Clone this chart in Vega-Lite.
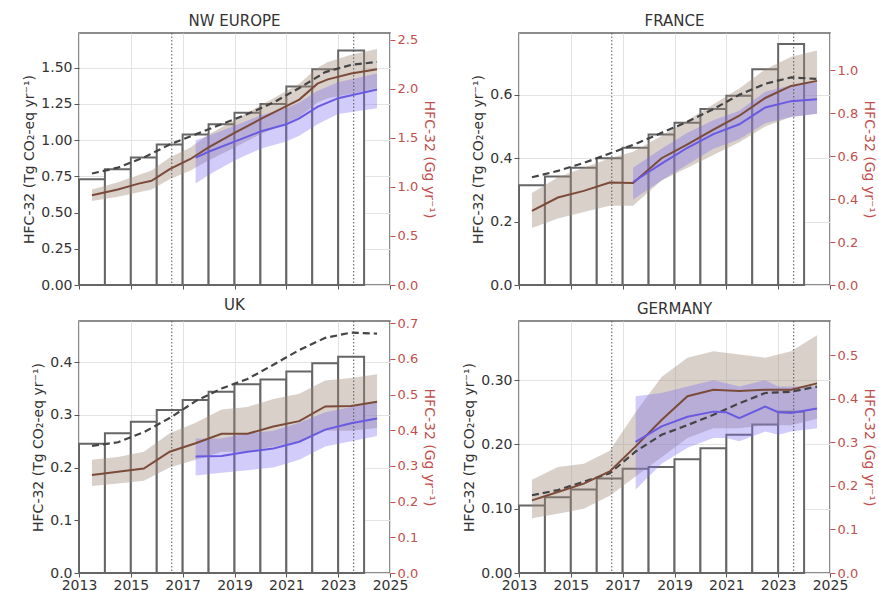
{
  "$schema": "https://vega.github.io/schema/vega-lite/v6.json",
  "padding": {"left": 22, "top": 12, "right": 0, "bottom": 0},
  "background": "white",
  "config": {
    "font": "DejaVu Sans",
    "view": {"stroke": "#666", "strokeWidth": 1.5},
    "axis": {"labelFont": "DejaVu Sans", "labelFontSize": 14, "labelColor": "#333", "titleFont": "DejaVu Sans", "titleFontSize": 14, "titleFontWeight": "normal", "titleColor": "#333", "tickColor": "#555", "domain": false, "gridColor": "#e3e3e3", "tickSize": 5},
    "axisX": {"tickSize": 4, "labelPadding": 1},
    "title": {"font": "DejaVu Sans", "fontSize": 15, "fontWeight": "normal", "color": "#333", "offset": 4}
  },
  "datasets": {
    "bars": [
      {"region": "NW EUROPE", "t": 2013, "t2": 2014, "v": 0.73},
      {"region": "NW EUROPE", "t": 2014, "t2": 2015, "v": 0.80},
      {"region": "NW EUROPE", "t": 2015, "t2": 2016, "v": 0.88},
      {"region": "NW EUROPE", "t": 2016, "t2": 2017, "v": 0.97},
      {"region": "NW EUROPE", "t": 2017, "t2": 2018, "v": 1.04},
      {"region": "NW EUROPE", "t": 2018, "t2": 2019, "v": 1.11},
      {"region": "NW EUROPE", "t": 2019, "t2": 2020, "v": 1.19},
      {"region": "NW EUROPE", "t": 2020, "t2": 2021, "v": 1.25},
      {"region": "NW EUROPE", "t": 2021, "t2": 2022, "v": 1.37},
      {"region": "NW EUROPE", "t": 2022, "t2": 2023, "v": 1.49},
      {"region": "NW EUROPE", "t": 2023, "t2": 2024, "v": 1.62},
      {"region": "FRANCE", "t": 2013, "t2": 2014, "v": 0.315},
      {"region": "FRANCE", "t": 2014, "t2": 2015, "v": 0.342},
      {"region": "FRANCE", "t": 2015, "t2": 2016, "v": 0.37},
      {"region": "FRANCE", "t": 2016, "t2": 2017, "v": 0.40},
      {"region": "FRANCE", "t": 2017, "t2": 2018, "v": 0.433},
      {"region": "FRANCE", "t": 2018, "t2": 2019, "v": 0.475},
      {"region": "FRANCE", "t": 2019, "t2": 2020, "v": 0.512},
      {"region": "FRANCE", "t": 2020, "t2": 2021, "v": 0.555},
      {"region": "FRANCE", "t": 2021, "t2": 2022, "v": 0.597},
      {"region": "FRANCE", "t": 2022, "t2": 2023, "v": 0.681},
      {"region": "FRANCE", "t": 2023, "t2": 2024, "v": 0.76},
      {"region": "UK", "t": 2013, "t2": 2014, "v": 0.245},
      {"region": "UK", "t": 2014, "t2": 2015, "v": 0.265},
      {"region": "UK", "t": 2015, "t2": 2016, "v": 0.287},
      {"region": "UK", "t": 2016, "t2": 2017, "v": 0.309},
      {"region": "UK", "t": 2017, "t2": 2018, "v": 0.328},
      {"region": "UK", "t": 2018, "t2": 2019, "v": 0.344},
      {"region": "UK", "t": 2019, "t2": 2020, "v": 0.358},
      {"region": "UK", "t": 2020, "t2": 2021, "v": 0.367},
      {"region": "UK", "t": 2021, "t2": 2022, "v": 0.382},
      {"region": "UK", "t": 2022, "t2": 2023, "v": 0.398},
      {"region": "UK", "t": 2023, "t2": 2024, "v": 0.41},
      {"region": "GERMANY", "t": 2013, "t2": 2014, "v": 0.105},
      {"region": "GERMANY", "t": 2014, "t2": 2015, "v": 0.118},
      {"region": "GERMANY", "t": 2015, "t2": 2016, "v": 0.13},
      {"region": "GERMANY", "t": 2016, "t2": 2017, "v": 0.147},
      {"region": "GERMANY", "t": 2017, "t2": 2018, "v": 0.162},
      {"region": "GERMANY", "t": 2018, "t2": 2019, "v": 0.165},
      {"region": "GERMANY", "t": 2019, "t2": 2020, "v": 0.177},
      {"region": "GERMANY", "t": 2020, "t2": 2021, "v": 0.194},
      {"region": "GERMANY", "t": 2021, "t2": 2022, "v": 0.215},
      {"region": "GERMANY", "t": 2022, "t2": 2023, "v": 0.231},
      {"region": "GERMANY", "t": 2023, "t2": 2024, "v": 0.251}
    ],
    "series": [
      {"region": "NW EUROPE", "kind": "dashed", "t": 2013.5, "v": 0.77},
      {"region": "NW EUROPE", "kind": "dashed", "t": 2014.5, "v": 0.81},
      {"region": "NW EUROPE", "kind": "dashed", "t": 2015.5, "v": 0.88},
      {"region": "NW EUROPE", "kind": "dashed", "t": 2016.5, "v": 0.97},
      {"region": "NW EUROPE", "kind": "dashed", "t": 2017.5, "v": 1.04},
      {"region": "NW EUROPE", "kind": "dashed", "t": 2018.5, "v": 1.11},
      {"region": "NW EUROPE", "kind": "dashed", "t": 2019.5, "v": 1.18},
      {"region": "NW EUROPE", "kind": "dashed", "t": 2020.5, "v": 1.26},
      {"region": "NW EUROPE", "kind": "dashed", "t": 2021.5, "v": 1.36},
      {"region": "NW EUROPE", "kind": "dashed", "t": 2022.5, "v": 1.47},
      {"region": "NW EUROPE", "kind": "dashed", "t": 2023.5, "v": 1.52},
      {"region": "NW EUROPE", "kind": "dashed", "t": 2024.5, "v": 1.54},
      {"region": "NW EUROPE", "kind": "brown", "t": 2013.5, "v": 0.62, "lo": 0.58, "hi": 0.66},
      {"region": "NW EUROPE", "kind": "brown", "t": 2014.5, "v": 0.66, "lo": 0.61, "hi": 0.71},
      {"region": "NW EUROPE", "kind": "brown", "t": 2015.3, "v": 0.70, "lo": 0.64, "hi": 0.76},
      {"region": "NW EUROPE", "kind": "brown", "t": 2015.8, "v": 0.72, "lo": 0.66, "hi": 0.79},
      {"region": "NW EUROPE", "kind": "brown", "t": 2016.5, "v": 0.80, "lo": 0.73, "hi": 0.88},
      {"region": "NW EUROPE", "kind": "brown", "t": 2017.3, "v": 0.87, "lo": 0.79, "hi": 0.95},
      {"region": "NW EUROPE", "kind": "brown", "t": 2018.0, "v": 0.95, "lo": 0.86, "hi": 1.04},
      {"region": "NW EUROPE", "kind": "brown", "t": 2019.0, "v": 1.05, "lo": 0.95, "hi": 1.14},
      {"region": "NW EUROPE", "kind": "brown", "t": 2020.0, "v": 1.145, "lo": 1.04, "hi": 1.24},
      {"region": "NW EUROPE", "kind": "brown", "t": 2021.0, "v": 1.235, "lo": 1.12, "hi": 1.34},
      {"region": "NW EUROPE", "kind": "brown", "t": 2021.5, "v": 1.28, "lo": 1.16, "hi": 1.39},
      {"region": "NW EUROPE", "kind": "brown", "t": 2022.2, "v": 1.39, "lo": 1.26, "hi": 1.50},
      {"region": "NW EUROPE", "kind": "brown", "t": 2022.6, "v": 1.42, "lo": 1.29, "hi": 1.54},
      {"region": "NW EUROPE", "kind": "brown", "t": 2023.5, "v": 1.46, "lo": 1.32, "hi": 1.59},
      {"region": "NW EUROPE", "kind": "brown", "t": 2024.5, "v": 1.49, "lo": 1.36, "hi": 1.63},
      {"region": "NW EUROPE", "kind": "blue", "t": 2017.5, "v": 0.88, "lo": 0.70, "hi": 1.00},
      {"region": "NW EUROPE", "kind": "blue", "t": 2018.0, "v": 0.92, "lo": 0.76, "hi": 1.03},
      {"region": "NW EUROPE", "kind": "blue", "t": 2019.0, "v": 0.99, "lo": 0.86, "hi": 1.10},
      {"region": "NW EUROPE", "kind": "blue", "t": 2020.0, "v": 1.06, "lo": 0.94, "hi": 1.17},
      {"region": "NW EUROPE", "kind": "blue", "t": 2021.0, "v": 1.11, "lo": 0.99, "hi": 1.22},
      {"region": "NW EUROPE", "kind": "blue", "t": 2021.5, "v": 1.15, "lo": 1.03, "hi": 1.26},
      {"region": "NW EUROPE", "kind": "blue", "t": 2022.2, "v": 1.23, "lo": 1.11, "hi": 1.34},
      {"region": "NW EUROPE", "kind": "blue", "t": 2023.0, "v": 1.29, "lo": 1.18, "hi": 1.40},
      {"region": "NW EUROPE", "kind": "blue", "t": 2024.5, "v": 1.35, "lo": 1.22, "hi": 1.46},
      {"region": "FRANCE", "kind": "dashed", "t": 2013.5, "v": 0.34},
      {"region": "FRANCE", "kind": "dashed", "t": 2014.5, "v": 0.36},
      {"region": "FRANCE", "kind": "dashed", "t": 2015.5, "v": 0.385},
      {"region": "FRANCE", "kind": "dashed", "t": 2016.5, "v": 0.415},
      {"region": "FRANCE", "kind": "dashed", "t": 2017.5, "v": 0.445},
      {"region": "FRANCE", "kind": "dashed", "t": 2018.5, "v": 0.48},
      {"region": "FRANCE", "kind": "dashed", "t": 2019.5, "v": 0.515},
      {"region": "FRANCE", "kind": "dashed", "t": 2020.5, "v": 0.555},
      {"region": "FRANCE", "kind": "dashed", "t": 2021.5, "v": 0.60},
      {"region": "FRANCE", "kind": "dashed", "t": 2022.5, "v": 0.635},
      {"region": "FRANCE", "kind": "dashed", "t": 2023.5, "v": 0.655},
      {"region": "FRANCE", "kind": "dashed", "t": 2024.5, "v": 0.65},
      {"region": "FRANCE", "kind": "brown", "t": 2013.5, "v": 0.234, "lo": 0.18, "hi": 0.29},
      {"region": "FRANCE", "kind": "brown", "t": 2014.5, "v": 0.276, "lo": 0.21, "hi": 0.34},
      {"region": "FRANCE", "kind": "brown", "t": 2015.5, "v": 0.297, "lo": 0.23, "hi": 0.37},
      {"region": "FRANCE", "kind": "brown", "t": 2016.5, "v": 0.323, "lo": 0.25, "hi": 0.40},
      {"region": "FRANCE", "kind": "brown", "t": 2017.4, "v": 0.322, "lo": 0.25, "hi": 0.42},
      {"region": "FRANCE", "kind": "brown", "t": 2018.5, "v": 0.40, "lo": 0.33, "hi": 0.47},
      {"region": "FRANCE", "kind": "brown", "t": 2019.5, "v": 0.444, "lo": 0.37, "hi": 0.52},
      {"region": "FRANCE", "kind": "brown", "t": 2020.5, "v": 0.49, "lo": 0.41, "hi": 0.57},
      {"region": "FRANCE", "kind": "brown", "t": 2021.5, "v": 0.534, "lo": 0.45, "hi": 0.62},
      {"region": "FRANCE", "kind": "brown", "t": 2022.5, "v": 0.59, "lo": 0.50, "hi": 0.68},
      {"region": "FRANCE", "kind": "brown", "t": 2023.5, "v": 0.628, "lo": 0.53, "hi": 0.72},
      {"region": "FRANCE", "kind": "brown", "t": 2024.5, "v": 0.644, "lo": 0.54, "hi": 0.74},
      {"region": "FRANCE", "kind": "blue", "t": 2017.4, "v": 0.325, "lo": 0.27, "hi": 0.37},
      {"region": "FRANCE", "kind": "blue", "t": 2018.5, "v": 0.383, "lo": 0.33, "hi": 0.43},
      {"region": "FRANCE", "kind": "blue", "t": 2019.5, "v": 0.433, "lo": 0.38, "hi": 0.48},
      {"region": "FRANCE", "kind": "blue", "t": 2020.5, "v": 0.476, "lo": 0.43, "hi": 0.52},
      {"region": "FRANCE", "kind": "blue", "t": 2021.5, "v": 0.507, "lo": 0.46, "hi": 0.55},
      {"region": "FRANCE", "kind": "blue", "t": 2022.5, "v": 0.56, "lo": 0.51, "hi": 0.61},
      {"region": "FRANCE", "kind": "blue", "t": 2023.5, "v": 0.58, "lo": 0.53, "hi": 0.63},
      {"region": "FRANCE", "kind": "blue", "t": 2024.5, "v": 0.586, "lo": 0.54, "hi": 0.64},
      {"region": "UK", "kind": "dashed", "t": 2013.5, "v": 0.241},
      {"region": "UK", "kind": "dashed", "t": 2014.5, "v": 0.248},
      {"region": "UK", "kind": "dashed", "t": 2015.5, "v": 0.267},
      {"region": "UK", "kind": "dashed", "t": 2016.5, "v": 0.294},
      {"region": "UK", "kind": "dashed", "t": 2017.5, "v": 0.326},
      {"region": "UK", "kind": "dashed", "t": 2018.5, "v": 0.35},
      {"region": "UK", "kind": "dashed", "t": 2019.5, "v": 0.368},
      {"region": "UK", "kind": "dashed", "t": 2020.5, "v": 0.395},
      {"region": "UK", "kind": "dashed", "t": 2021.5, "v": 0.423},
      {"region": "UK", "kind": "dashed", "t": 2022.5, "v": 0.446},
      {"region": "UK", "kind": "dashed", "t": 2023.5, "v": 0.456},
      {"region": "UK", "kind": "dashed", "t": 2024.5, "v": 0.454},
      {"region": "UK", "kind": "brown", "t": 2013.5, "v": 0.186, "lo": 0.165, "hi": 0.215},
      {"region": "UK", "kind": "brown", "t": 2014.5, "v": 0.192, "lo": 0.17, "hi": 0.22},
      {"region": "UK", "kind": "brown", "t": 2015.5, "v": 0.198, "lo": 0.175, "hi": 0.23},
      {"region": "UK", "kind": "brown", "t": 2016.5, "v": 0.23, "lo": 0.20, "hi": 0.265},
      {"region": "UK", "kind": "brown", "t": 2017.5, "v": 0.246, "lo": 0.215, "hi": 0.285},
      {"region": "UK", "kind": "brown", "t": 2018.5, "v": 0.264, "lo": 0.23, "hi": 0.31},
      {"region": "UK", "kind": "brown", "t": 2019.5, "v": 0.264, "lo": 0.23, "hi": 0.315},
      {"region": "UK", "kind": "brown", "t": 2020.5, "v": 0.278, "lo": 0.24, "hi": 0.33},
      {"region": "UK", "kind": "brown", "t": 2021.5, "v": 0.288, "lo": 0.25, "hi": 0.34},
      {"region": "UK", "kind": "brown", "t": 2022.5, "v": 0.316, "lo": 0.27, "hi": 0.365},
      {"region": "UK", "kind": "brown", "t": 2023.5, "v": 0.317, "lo": 0.27, "hi": 0.37},
      {"region": "UK", "kind": "brown", "t": 2024.5, "v": 0.325, "lo": 0.275, "hi": 0.377},
      {"region": "UK", "kind": "blue", "t": 2017.5, "v": 0.221, "lo": 0.185, "hi": 0.255},
      {"region": "UK", "kind": "blue", "t": 2018.5, "v": 0.222, "lo": 0.19, "hi": 0.255},
      {"region": "UK", "kind": "blue", "t": 2019.5, "v": 0.23, "lo": 0.195, "hi": 0.265},
      {"region": "UK", "kind": "blue", "t": 2020.5, "v": 0.236, "lo": 0.20, "hi": 0.27},
      {"region": "UK", "kind": "blue", "t": 2021.5, "v": 0.249, "lo": 0.215, "hi": 0.285},
      {"region": "UK", "kind": "blue", "t": 2022.5, "v": 0.272, "lo": 0.24, "hi": 0.305},
      {"region": "UK", "kind": "blue", "t": 2023.5, "v": 0.284, "lo": 0.25, "hi": 0.315},
      {"region": "UK", "kind": "blue", "t": 2024.5, "v": 0.293, "lo": 0.26, "hi": 0.325},
      {"region": "GERMANY", "kind": "dashed", "t": 2013.5, "v": 0.121},
      {"region": "GERMANY", "kind": "dashed", "t": 2014.5, "v": 0.129},
      {"region": "GERMANY", "kind": "dashed", "t": 2015.5, "v": 0.142},
      {"region": "GERMANY", "kind": "dashed", "t": 2016.5, "v": 0.155},
      {"region": "GERMANY", "kind": "dashed", "t": 2017.5, "v": 0.189},
      {"region": "GERMANY", "kind": "dashed", "t": 2018.5, "v": 0.215},
      {"region": "GERMANY", "kind": "dashed", "t": 2019.5, "v": 0.23},
      {"region": "GERMANY", "kind": "dashed", "t": 2020.5, "v": 0.246},
      {"region": "GERMANY", "kind": "dashed", "t": 2021.5, "v": 0.264},
      {"region": "GERMANY", "kind": "dashed", "t": 2022.5, "v": 0.28},
      {"region": "GERMANY", "kind": "dashed", "t": 2023.5, "v": 0.282},
      {"region": "GERMANY", "kind": "dashed", "t": 2024.5, "v": 0.29},
      {"region": "GERMANY", "kind": "brown", "t": 2013.5, "v": 0.113, "lo": 0.085, "hi": 0.145},
      {"region": "GERMANY", "kind": "brown", "t": 2014.5, "v": 0.126, "lo": 0.092, "hi": 0.165},
      {"region": "GERMANY", "kind": "brown", "t": 2015.5, "v": 0.139, "lo": 0.10, "hi": 0.17},
      {"region": "GERMANY", "kind": "brown", "t": 2016.5, "v": 0.158, "lo": 0.12, "hi": 0.19},
      {"region": "GERMANY", "kind": "brown", "t": 2017.5, "v": 0.197, "lo": 0.15, "hi": 0.25},
      {"region": "GERMANY", "kind": "brown", "t": 2018.5, "v": 0.238, "lo": 0.18, "hi": 0.305},
      {"region": "GERMANY", "kind": "brown", "t": 2019.5, "v": 0.275, "lo": 0.21, "hi": 0.335},
      {"region": "GERMANY", "kind": "brown", "t": 2020.5, "v": 0.285, "lo": 0.225, "hi": 0.345},
      {"region": "GERMANY", "kind": "brown", "t": 2021.5, "v": 0.283, "lo": 0.225, "hi": 0.34},
      {"region": "GERMANY", "kind": "brown", "t": 2022.5, "v": 0.285, "lo": 0.23, "hi": 0.335},
      {"region": "GERMANY", "kind": "brown", "t": 2023.5, "v": 0.285, "lo": 0.23, "hi": 0.345},
      {"region": "GERMANY", "kind": "brown", "t": 2024.5, "v": 0.295, "lo": 0.24, "hi": 0.37},
      {"region": "GERMANY", "kind": "blue", "t": 2017.5, "v": 0.204, "lo": 0.13, "hi": 0.275},
      {"region": "GERMANY", "kind": "blue", "t": 2018.5, "v": 0.228, "lo": 0.17, "hi": 0.28},
      {"region": "GERMANY", "kind": "blue", "t": 2019.5, "v": 0.243, "lo": 0.195, "hi": 0.29},
      {"region": "GERMANY", "kind": "blue", "t": 2020.5, "v": 0.251, "lo": 0.21, "hi": 0.30},
      {"region": "GERMANY", "kind": "blue", "t": 2021.0, "v": 0.25, "lo": 0.21, "hi": 0.295},
      {"region": "GERMANY", "kind": "blue", "t": 2021.5, "v": 0.241, "lo": 0.205, "hi": 0.29},
      {"region": "GERMANY", "kind": "blue", "t": 2022.5, "v": 0.259, "lo": 0.22, "hi": 0.30},
      {"region": "GERMANY", "kind": "blue", "t": 2023.0, "v": 0.25, "lo": 0.215, "hi": 0.29},
      {"region": "GERMANY", "kind": "blue", "t": 2023.5, "v": 0.249, "lo": 0.22, "hi": 0.29},
      {"region": "GERMANY", "kind": "blue", "t": 2024.5, "v": 0.256, "lo": 0.225, "hi": 0.29}
    ],
    "marks": [
      {"t": 2016.58},
      {"t": 2023.6}
    ]
  },
  "columns": 2,
  "spacing": {"row": 4, "column": 25},
  "concat": [
    {
      "title": "NW EUROPE",
      "width": 311, "height": 252,
      "resolve": {"scale": {"y": "independent"}},
      "layer": [
        {
          "encoding": {"x": {"field": "t", "type": "quantitative", "scale": {"domain": [2013, 2025], "nice": false}, "axis": {"values": [2013, 2015, 2017, 2019, 2021, 2023, 2025], "format": "d", "labels": false, "title": null, "grid": true, "labelFlush": false}}},
          "layer": [
            {"data": {"name": "bars"}, "transform": [{"filter": "datum.region == 'NW EUROPE'"}], "mark": {"type": "rect", "fill": "white", "stroke": "#666", "strokeWidth": 2},
             "encoding": {"x2": {"field": "t2"}, "y": {"field": "v", "type": "quantitative", "title": "HFC-32  (Tg CO₂-eq yr⁻¹)", "scale": {"domain": [0, 1.74], "nice": false}, "axis": {"values": [0, 0.25, 0.5, 0.75, 1, 1.25, 1.5], "format": ".2f", "grid": true}}, "y2": {"datum": 0}}},
            {"data": {"name": "series"}, "transform": [{"filter": "datum.region == 'NW EUROPE' && datum.kind == 'brown'"}], "mark": {"type": "area", "color": "#a08a7a", "opacity": 0.4},
             "encoding": {"y": {"field": "lo", "type": "quantitative", "title": "HFC-32  (Tg CO₂-eq yr⁻¹)"}, "y2": {"field": "hi"}}},
            {"data": {"name": "series"}, "transform": [{"filter": "datum.region == 'NW EUROPE' && datum.kind == 'blue'"}], "mark": {"type": "area", "color": "#7b6cf0", "opacity": 0.35},
             "encoding": {"y": {"field": "lo", "type": "quantitative", "title": "HFC-32  (Tg CO₂-eq yr⁻¹)"}, "y2": {"field": "hi"}}},
            {"data": {"name": "marks"}, "mark": {"type": "rule", "color": "#555", "strokeDash": [1.5, 2], "strokeWidth": 1}, "encoding": {}},
            {"data": {"name": "series"}, "transform": [{"filter": "datum.region == 'NW EUROPE' && datum.kind == 'dashed'"}], "mark": {"type": "line", "color": "#444", "strokeWidth": 2.2, "strokeDash": [7, 4]},
             "encoding": {"y": {"field": "v", "type": "quantitative", "title": "HFC-32  (Tg CO₂-eq yr⁻¹)"}}},
            {"data": {"name": "series"}, "transform": [{"filter": "datum.region == 'NW EUROPE' && datum.kind == 'brown'"}], "mark": {"type": "line", "color": "#7b4b3a", "strokeWidth": 2},
             "encoding": {"y": {"field": "v", "type": "quantitative", "title": "HFC-32  (Tg CO₂-eq yr⁻¹)"}}},
            {"data": {"name": "series"}, "transform": [{"filter": "datum.region == 'NW EUROPE' && datum.kind == 'blue'"}], "mark": {"type": "line", "color": "#6a5ae0", "strokeWidth": 2},
             "encoding": {"y": {"field": "v", "type": "quantitative", "title": "HFC-32  (Tg CO₂-eq yr⁻¹)"}}}
          ]
        },
        {"data": {"values": [{}]}, "mark": {"type": "rule", "opacity": 0},
         "encoding": {"y": {"datum": 0, "type": "quantitative", "scale": {"domain": [0, 2.57], "nice": false}, "axis": {"orient": "right", "title": "HFC-32 (Gg yr⁻¹)", "values": [0, 0.5, 1, 1.5, 2, 2.5], "format": ".1f", "labelColor": "#c0504d", "tickColor": "#c0504d", "titleColor": "#c0504d", "labelFontSize": 13, "grid": false}}}}
      ]
    },
    {
      "title": "FRANCE",
      "width": 311, "height": 252,
      "resolve": {"scale": {"y": "independent"}},
      "layer": [
        {
          "encoding": {"x": {"field": "t", "type": "quantitative", "scale": {"domain": [2013, 2025], "nice": false}, "axis": {"values": [2013, 2015, 2017, 2019, 2021, 2023, 2025], "format": "d", "labels": false, "title": null, "grid": true, "labelFlush": false}}},
          "layer": [
            {"data": {"name": "bars"}, "transform": [{"filter": "datum.region == 'FRANCE'"}], "mark": {"type": "rect", "fill": "white", "stroke": "#666", "strokeWidth": 2},
             "encoding": {"x2": {"field": "t2"}, "y": {"field": "v", "type": "quantitative", "title": "HFC-32  (Tg CO₂-eq yr⁻¹)", "scale": {"domain": [0, 0.795], "nice": false}, "axis": {"values": [0, 0.1, 0.2, 0.3, 0.4, 0.5, 0.6, 0.7], "format": ".1f", "grid": true}}, "y2": {"datum": 0}}},
            {"data": {"name": "series"}, "transform": [{"filter": "datum.region == 'FRANCE' && datum.kind == 'brown'"}], "mark": {"type": "area", "color": "#a08a7a", "opacity": 0.4},
             "encoding": {"y": {"field": "lo", "type": "quantitative", "title": "HFC-32  (Tg CO₂-eq yr⁻¹)"}, "y2": {"field": "hi"}}},
            {"data": {"name": "series"}, "transform": [{"filter": "datum.region == 'FRANCE' && datum.kind == 'blue'"}], "mark": {"type": "area", "color": "#7b6cf0", "opacity": 0.35},
             "encoding": {"y": {"field": "lo", "type": "quantitative", "title": "HFC-32  (Tg CO₂-eq yr⁻¹)"}, "y2": {"field": "hi"}}},
            {"data": {"name": "marks"}, "mark": {"type": "rule", "color": "#555", "strokeDash": [1.5, 2], "strokeWidth": 1}, "encoding": {}},
            {"data": {"name": "series"}, "transform": [{"filter": "datum.region == 'FRANCE' && datum.kind == 'dashed'"}], "mark": {"type": "line", "color": "#444", "strokeWidth": 2.2, "strokeDash": [7, 4]},
             "encoding": {"y": {"field": "v", "type": "quantitative", "title": "HFC-32  (Tg CO₂-eq yr⁻¹)"}}},
            {"data": {"name": "series"}, "transform": [{"filter": "datum.region == 'FRANCE' && datum.kind == 'brown'"}], "mark": {"type": "line", "color": "#7b4b3a", "strokeWidth": 2},
             "encoding": {"y": {"field": "v", "type": "quantitative", "title": "HFC-32  (Tg CO₂-eq yr⁻¹)"}}},
            {"data": {"name": "series"}, "transform": [{"filter": "datum.region == 'FRANCE' && datum.kind == 'blue'"}], "mark": {"type": "line", "color": "#6a5ae0", "strokeWidth": 2},
             "encoding": {"y": {"field": "v", "type": "quantitative", "title": "HFC-32  (Tg CO₂-eq yr⁻¹)"}}}
          ]
        },
        {"data": {"values": [{}]}, "mark": {"type": "rule", "opacity": 0},
         "encoding": {"y": {"datum": 0, "type": "quantitative", "scale": {"domain": [0, 1.174], "nice": false}, "axis": {"orient": "right", "title": "HFC-32 (Gg yr⁻¹)", "values": [0, 0.2, 0.4, 0.6, 0.8, 1.0], "format": ".1f", "labelColor": "#c0504d", "tickColor": "#c0504d", "titleColor": "#c0504d", "labelFontSize": 13, "grid": false}}}}
      ]
    },
    {
      "title": "UK",
      "width": 311, "height": 252,
      "resolve": {"scale": {"y": "independent"}},
      "layer": [
        {
          "encoding": {"x": {"field": "t", "type": "quantitative", "scale": {"domain": [2013, 2025], "nice": false}, "axis": {"values": [2013, 2015, 2017, 2019, 2021, 2023, 2025], "format": "d", "title": null, "grid": true, "labelFlush": false}}},
          "layer": [
            {"data": {"name": "bars"}, "transform": [{"filter": "datum.region == 'UK'"}], "mark": {"type": "rect", "fill": "white", "stroke": "#666", "strokeWidth": 2},
             "encoding": {"x2": {"field": "t2"}, "y": {"field": "v", "type": "quantitative", "title": "HFC-32  (Tg CO₂-eq yr⁻¹)", "scale": {"domain": [0, 0.478], "nice": false}, "axis": {"values": [0, 0.1, 0.2, 0.3, 0.4], "format": ".1f", "grid": true}}, "y2": {"datum": 0}}},
            {"data": {"name": "series"}, "transform": [{"filter": "datum.region == 'UK' && datum.kind == 'brown'"}], "mark": {"type": "area", "color": "#a08a7a", "opacity": 0.4},
             "encoding": {"y": {"field": "lo", "type": "quantitative", "title": "HFC-32  (Tg CO₂-eq yr⁻¹)"}, "y2": {"field": "hi"}}},
            {"data": {"name": "series"}, "transform": [{"filter": "datum.region == 'UK' && datum.kind == 'blue'"}], "mark": {"type": "area", "color": "#7b6cf0", "opacity": 0.35},
             "encoding": {"y": {"field": "lo", "type": "quantitative", "title": "HFC-32  (Tg CO₂-eq yr⁻¹)"}, "y2": {"field": "hi"}}},
            {"data": {"name": "marks"}, "mark": {"type": "rule", "color": "#555", "strokeDash": [1.5, 2], "strokeWidth": 1}, "encoding": {}},
            {"data": {"name": "series"}, "transform": [{"filter": "datum.region == 'UK' && datum.kind == 'dashed'"}], "mark": {"type": "line", "color": "#444", "strokeWidth": 2.2, "strokeDash": [7, 4]},
             "encoding": {"y": {"field": "v", "type": "quantitative", "title": "HFC-32  (Tg CO₂-eq yr⁻¹)"}}},
            {"data": {"name": "series"}, "transform": [{"filter": "datum.region == 'UK' && datum.kind == 'brown'"}], "mark": {"type": "line", "color": "#7b4b3a", "strokeWidth": 2},
             "encoding": {"y": {"field": "v", "type": "quantitative", "title": "HFC-32  (Tg CO₂-eq yr⁻¹)"}}},
            {"data": {"name": "series"}, "transform": [{"filter": "datum.region == 'UK' && datum.kind == 'blue'"}], "mark": {"type": "line", "color": "#6a5ae0", "strokeWidth": 2},
             "encoding": {"y": {"field": "v", "type": "quantitative", "title": "HFC-32  (Tg CO₂-eq yr⁻¹)"}}}
          ]
        },
        {"data": {"values": [{}]}, "mark": {"type": "rule", "opacity": 0},
         "encoding": {"y": {"datum": 0, "type": "quantitative", "scale": {"domain": [0, 0.706], "nice": false}, "axis": {"orient": "right", "title": "HFC-32 (Gg yr⁻¹)", "values": [0, 0.1, 0.2, 0.3, 0.4, 0.5, 0.6, 0.7], "format": ".1f", "labelColor": "#c0504d", "tickColor": "#c0504d", "titleColor": "#c0504d", "labelFontSize": 13, "grid": false}}}}
      ]
    },
    {
      "title": "GERMANY",
      "width": 311, "height": 252,
      "resolve": {"scale": {"y": "independent"}},
      "layer": [
        {
          "encoding": {"x": {"field": "t", "type": "quantitative", "scale": {"domain": [2013, 2025], "nice": false}, "axis": {"values": [2013, 2015, 2017, 2019, 2021, 2023, 2025], "format": "d", "title": null, "grid": true, "labelFlush": false}}},
          "layer": [
            {"data": {"name": "bars"}, "transform": [{"filter": "datum.region == 'GERMANY'"}], "mark": {"type": "rect", "fill": "white", "stroke": "#666", "strokeWidth": 2},
             "encoding": {"x2": {"field": "t2"}, "y": {"field": "v", "type": "quantitative", "title": "HFC-32  (Tg CO₂-eq yr⁻¹)", "scale": {"domain": [0, 0.392], "nice": false}, "axis": {"values": [0, 0.05, 0.1, 0.15, 0.2, 0.25, 0.3, 0.35], "format": ".2f", "grid": true}}, "y2": {"datum": 0}}},
            {"data": {"name": "series"}, "transform": [{"filter": "datum.region == 'GERMANY' && datum.kind == 'brown'"}], "mark": {"type": "area", "color": "#a08a7a", "opacity": 0.4},
             "encoding": {"y": {"field": "lo", "type": "quantitative", "title": "HFC-32  (Tg CO₂-eq yr⁻¹)"}, "y2": {"field": "hi"}}},
            {"data": {"name": "series"}, "transform": [{"filter": "datum.region == 'GERMANY' && datum.kind == 'blue'"}], "mark": {"type": "area", "color": "#7b6cf0", "opacity": 0.35},
             "encoding": {"y": {"field": "lo", "type": "quantitative", "title": "HFC-32  (Tg CO₂-eq yr⁻¹)"}, "y2": {"field": "hi"}}},
            {"data": {"name": "marks"}, "mark": {"type": "rule", "color": "#555", "strokeDash": [1.5, 2], "strokeWidth": 1}, "encoding": {}},
            {"data": {"name": "series"}, "transform": [{"filter": "datum.region == 'GERMANY' && datum.kind == 'dashed'"}], "mark": {"type": "line", "color": "#444", "strokeWidth": 2.2, "strokeDash": [7, 4]},
             "encoding": {"y": {"field": "v", "type": "quantitative", "title": "HFC-32  (Tg CO₂-eq yr⁻¹)"}}},
            {"data": {"name": "series"}, "transform": [{"filter": "datum.region == 'GERMANY' && datum.kind == 'brown'"}], "mark": {"type": "line", "color": "#7b4b3a", "strokeWidth": 2},
             "encoding": {"y": {"field": "v", "type": "quantitative", "title": "HFC-32  (Tg CO₂-eq yr⁻¹)"}}},
            {"data": {"name": "series"}, "transform": [{"filter": "datum.region == 'GERMANY' && datum.kind == 'blue'"}], "mark": {"type": "line", "color": "#6a5ae0", "strokeWidth": 2},
             "encoding": {"y": {"field": "v", "type": "quantitative", "title": "HFC-32  (Tg CO₂-eq yr⁻¹)"}}}
          ]
        },
        {"data": {"values": [{}]}, "mark": {"type": "rule", "opacity": 0},
         "encoding": {"y": {"datum": 0, "type": "quantitative", "scale": {"domain": [0, 0.579], "nice": false}, "axis": {"orient": "right", "title": "HFC-32 (Gg yr⁻¹)", "values": [0, 0.1, 0.2, 0.3, 0.4, 0.5], "format": ".1f", "labelColor": "#c0504d", "tickColor": "#c0504d", "titleColor": "#c0504d", "labelFontSize": 13, "grid": false}}}}
      ]
    }
  ]
}
